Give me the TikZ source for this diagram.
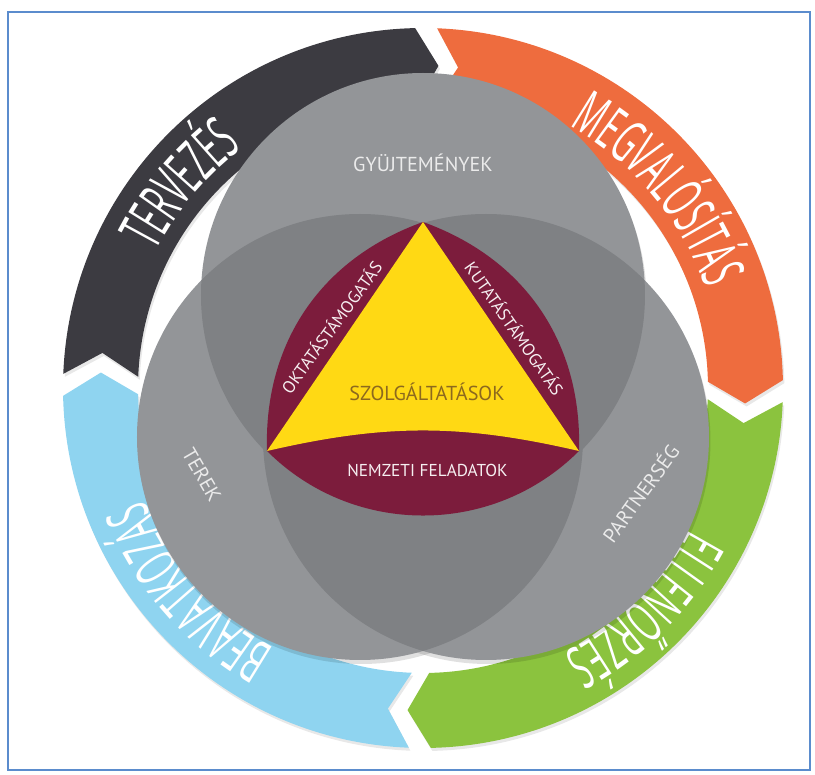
\documentclass[tikz,border=0pt]{standalone}
\usepackage{fontspec}
\setmainfont{PT Sans}
\newfontfamily\ringface[FakeStretch=0.5]{Open Sans}
\usetikzlibrary{decorations.text,shadows}

\definecolor{plandark}{RGB}{60,59,65}
\definecolor{doorange}{RGB}{238,108,62}
\definecolor{checkgreen}{RGB}{139,195,62}
\definecolor{actblue}{RGB}{143,212,240}
\definecolor{circlegray}{RGB}{147,149,152}
\definecolor{overlapgray}{RGB}{127,129,132}
\definecolor{servmaroon}{RGB}{124,28,60}
\definecolor{servyellow}{RGB}{255,217,20}
\definecolor{servtext}{RGB}{140,105,30}
\definecolor{frameblue}{RGB}{91,140,205}

% one arrow piece of the outer ring: colour, tail angle, head angle
\newcommand{\ringpiece}[3]{%
  \fill[#1, ringshadow] (#2:7.2) arc[start angle=#2, end angle=#3, radius=7.2]
    -- ({#3-4}:6.45) -- (#3:5.7) arc[start angle=#3, end angle=#2, radius=5.7]
    -- ({#2-4}:6.45) -- cycle;}

% text on the ring, read clockwise: start angle, end angle, text
\newcommand{\ringlabel}[3]{%
  \path[decorate, decoration={text along path, text align=center, text color=white,
    text={|\ringface\fontsize{34}{34}\selectfont|#3}}]
    (#1:6.0) arc[start angle=#1, end angle=#2, radius=6.0];}

\begin{document}
\begin{tikzpicture}[
    ringshadow/.style={drop shadow={opacity=0.18, shadow xshift=0.03cm, shadow yshift=-0.06cm}},
    circlelabel/.style={text=white!92!black, font=\fontsize{11.5}{11.5}\selectfont},
    sidelabel/.style={text=white!93!servmaroon, font=\fontsize{9.8}{9.8}\selectfont}]
  \useasboundingbox (-8.46,-7.74) rectangle (7.84,7.76);

  % draw frame
  \draw[frameblue, line width=0.8pt] (-8.3,-7.64) rectangle (7.74,7.52);

  % draw outer ring (clockwise cycle)
  \ringpiece{plandark}{177.75}{91.25}
  \ringpiece{doorange}{87.75}{1.25}
  \ringpiece{checkgreen}{-2.25}{-88.75}
  \ringpiece{actblue}{267.75}{181.25}

  \ringlabel{175}{105}{TERVEZÉS}
  \ringlabel{80}{0}{MEGVALÓSÍTÁS}
  \ringlabel{-5}{-85}{ELLENŐRZÉS}
  \ringlabel{261}{181}{BEAVATKOZÁS}

  % draw the three circles
  \coordinate (topc) at (0,1.86);
  \coordinate (leftc) at (-1.26,-0.98);
  \coordinate (rightc) at (1.26,-0.98);
  \foreach \c/\r in {topc/4.44, leftc/4.46, rightc/4.46}
    \fill[black, opacity=0.12] ([xshift=0.03cm, yshift=-0.08cm]\c) circle (\r);
  \fill[circlegray] (topc) circle (4.44);
  \fill[circlegray] (leftc) circle (4.46);
  \fill[circlegray] (rightc) circle (4.46);

  % overlaps
  \begin{scope}
    \clip (topc) circle (4.44);
    \fill[overlapgray] (leftc) circle (4.46);
    \fill[overlapgray] (rightc) circle (4.46);
  \end{scope}
  \begin{scope}
    \clip (leftc) circle (4.46);
    \fill[overlapgray] (rightc) circle (4.46);
  \end{scope}

  \node[circlelabel] (coll) at (0,4.5) {GYÜJTEMÉNYEK};
  \node[circlelabel, rotate=-60] (space) at (-4.42,-1.74) {TEREK};
  \node[circlelabel, rotate=54] (partner) at (4.34,-2.1) {PARTNERSÉG};

  % draw rounded triangle and services triangle
  \coordinate (apex) at (0,3.32);
  \coordinate (bl) at (-3.12,-1.26);
  \coordinate (br) at (3.12,-1.26);
  \fill[servmaroon] (apex) to[bend left=36] (br) to[bend left=45] (bl)
    to[bend left=36] (apex) -- cycle;
  \fill[servyellow] (apex) -- (br) to[bend right=13] (bl) -- cycle;

  \node[text=servtext, font=\fontsize{11.5}{11.5}\selectfont] (serv) at (0.08,-0.08) {SZOLGÁLTATÁSOK};
  \node[sidelabel, rotate=54] (teach) at (-1.84,1.22) {OKTATÁSTÁMOGATÁS};
  \node[sidelabel, rotate=-55] (research) at (1.84,1.2) {KUTATÁSTÁMOGATÁS};
  \node[sidelabel] (national) at (0.09,-1.64) {NEMZETI FELADATOK};

\end{tikzpicture}
\end{document}
